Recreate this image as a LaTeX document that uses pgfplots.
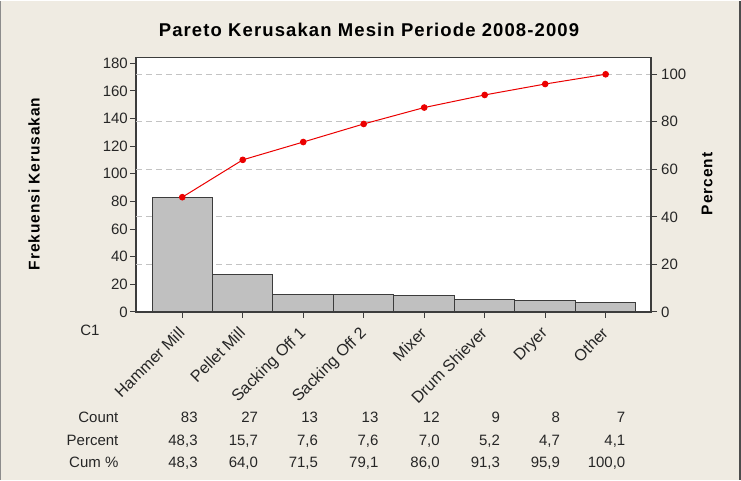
\documentclass[border=0pt]{standalone}
\usepackage{pgfplots}
\pgfplotsset{compat=1.18}
\usepackage{fontspec}
\setmainfont{Liberation Sans}
\newfontfamily\spacedfont[LetterSpace=6]{Liberation Sans}

\definecolor{bgbeige}{RGB}{239,235,226}
\definecolor{bargray}{RGB}{192,192,192}
\definecolor{framegray}{RGB}{60,60,60}
\definecolor{gridgray}{RGB}{195,195,195}
\definecolor{cumred}{RGB}{235,0,0}

\newcommand\ticksize{\fontsize{15bp}{18bp}\selectfont}
% one column of the summary table: x of right edge, count, percent, cumulative
\newcommand\col[4]{%
  \node[anchor=base east,inner sep=0pt] at (#1,57.5) {#2};
  \node[anchor=base east,inner sep=0pt] at (#1,34) {#3};
  \node[anchor=base east,inner sep=0pt] at (#1,12) {#4};}

\begin{document}
\begin{tikzpicture}[x=1bp,y=1bp]
\fill[bgbeige] (0,0) rectangle (741,479);
\draw[black!45,line width=1bp] (0.8,0) -- (0.8,479);
\draw[black!70,line width=2bp] (740,0) -- (740,479);

% counts (left axis)
\begin{axis}[
  at={(136bp,168bp)}, anchor=south west,
  width=515bp, height=254.3bp, scale only axis,
  xmin=0.235, xmax=8.75, ymin=0, ymax=184,
  ybar, bar width=1,
  xtick={1,...,8},
  xticklabels={Hammer Mill,Pellet Mill,Sacking Off 1,Sacking Off 2,Mixer,Drum Shiever,Dryer,Other},
  ytick={0,20,...,180},
  yticklabel style={inner sep=2bp},
  tick align=outside, major tick length=6bp,
  xtick pos=bottom, ytick pos=left,
  extra y ticks={34.4,68.8,103.2,137.6,172},
  extra y tick labels={},
  extra y tick style={grid=major, major tick length=0pt},
  grid style={gridgray, dash pattern=on 6bp off 4bp, line width=1bp},
  axis line style={framegray, line width=1.3bp},
  tick style={framegray, line width=1bp},
  axis background/.style={fill=white},
  ticklabel style={font=\ticksize, text=black!85},
  xticklabel style={rotate=45, anchor=north east, inner sep=1bp, xshift=-8bp, yshift=-1bp,
    font=\fontsize{16.2bp}{19bp}\selectfont},
  /pgf/number format/assume math mode=true,
]
\addplot[fill=bargray, draw=framegray, line width=1bp]
  coordinates {(1,83) (2,27) (3,13) (4,13) (5,12) (6,9) (7,8) (8,7)};
\end{axis}

% cumulative percent (right axis)
\begin{axis}[
  at={(136bp,168bp)}, anchor=south west,
  width=515bp, height=254.3bp, scale only axis,
  xmin=0.235, xmax=8.75, ymin=0, ymax=106.977,
  axis y line*=right, axis x line=none,
  ytick={0,20,...,100},
  yticklabel style={inner sep=4bp},
  tick align=outside, major tick length=6bp,
  axis line style={framegray, line width=1.3bp},
  tick style={framegray, line width=1bp},
  ticklabel style={font=\ticksize, text=black!85},
  /pgf/number format/assume math mode=true,
  clip=false,
]
\addplot[cumred, line width=1bp, mark=*, mark size=2.8bp, mark options={fill=cumred}]
  coordinates {(1,48.3) (2,64.0) (3,71.5) (4,79.1) (5,86.0) (6,91.3) (7,95.9) (8,100.0)};
\end{axis}

% titles
\node[anchor=base, font={\spacedfont\bfseries\fontsize{18.5bp}{22bp}\selectfont}] at (369,443)
  {Pareto Kerusakan Mesin Periode 2008-2009};
\node[rotate=90, font={\spacedfont\bfseries\fontsize{15.5bp}{18bp}\selectfont}] at (34,296)
  {Frekuensi Kerusakan};
\node[rotate=90, font={\spacedfont\bfseries\fontsize{15.5bp}{18bp}\selectfont}] at (707,296)
  {Percent};

% summary table below the chart
\begin{scope}[font=\ticksize, text=black!85]
\node at (90,150) {C1};
\node[anchor=base east,inner sep=0pt] at (118.6,57.5) {Count};
\node[anchor=base east,inner sep=0pt] at (118.6,34) {Percent};
\node[anchor=base east,inner sep=0pt] at (118.6,12) {Cum \%};
\col{197.8}{83}{48,3}{48,3}
\col{258.2}{27}{15,7}{64,0}
\col{318.2}{13}{7,6}{71,5}
\col{378.6}{13}{7,6}{79,1}
\col{439.8}{12}{7,0}{86,0}
\col{500.2}{9}{5,2}{91,3}
\col{560.2}{8}{4,7}{95,9}
\col{625.5}{7}{4,1}{100,0}
\end{scope}
\end{tikzpicture}
\end{document}
